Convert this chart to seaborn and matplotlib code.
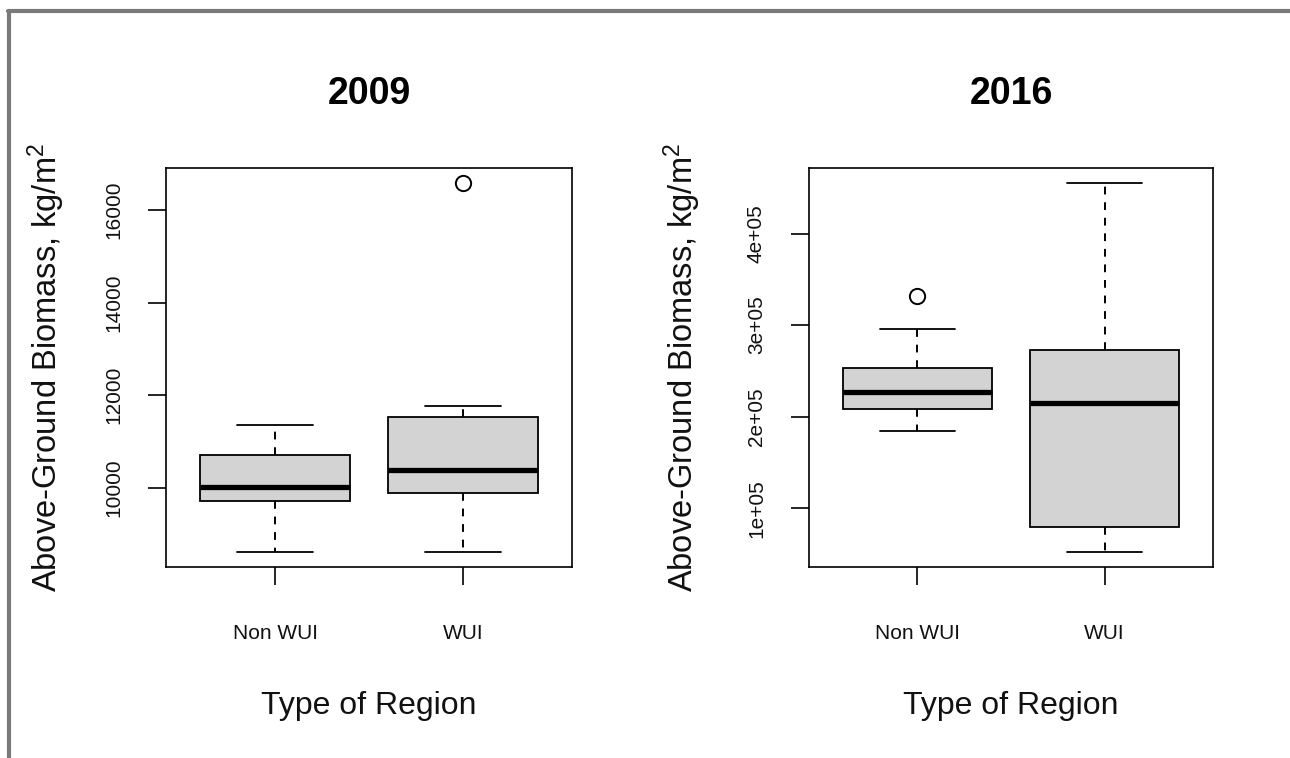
import numpy as np
import pandas as pd
import matplotlib.pyplot as plt
import seaborn as sns
from matplotlib.lines import Line2D

regions = ["Non WUI", "WUI"]
nonwui_2009 = [8620, 9300, 9720, 9900, 10020, 10400, 10710, 11000, 11350]
wui_2009 = [8610, 9500, 9885, 10100, 10390, 11000, 11530, 11770, 16590]
nonwui_2016 = [184400, 200000, 208400, 220000, 227400, 240000, 252900, 295600, 332000]
wui_2016 = [51900, 70000, 79900, 150000, 214700, 250000, 273000, 350000, 455500]

years = ["2009", "2016"]
yticks_2009 = [10000, 12000, 14000, 16000]
yticklabels_2009 = ["10000", "12000", "14000", "16000"]
yticks_2016 = [100000, 200000, 300000, 400000]
yticklabels_2016 = ["1e+05", "2e+05", "3e+05", "4e+05"]

sns.set_theme(style="white")
plt.rcParams["font.family"] = ["Liberation Sans", "DejaVu Sans"]
plt.rcParams["mathtext.fontset"] = "custom"
plt.rcParams["mathtext.rm"] = "Liberation Sans"
plt.rcParams["mathtext.it"] = "Liberation Sans"

fig = plt.figure(figsize=(12.9, 7.58), dpi=100)
W, H = 1290, 758
ax1 = fig.add_axes([166 / W, 1 - 567 / H, 406 / W, 399 / H])
ax2 = fig.add_axes([809 / W, 1 - 567 / H, 404 / W, 399 / H])

panels = [
    (ax1, years[0], nonwui_2009, wui_2009, yticks_2009, yticklabels_2009),
    (ax2, years[1], nonwui_2016, wui_2016, yticks_2016, yticklabels_2016),
]

for ax, year, nonwui, wui, yt, ytl in panels:
    df = pd.DataFrame({
        "region": [regions[0]] * len(nonwui) + [regions[1]] * len(wui),
        "biomass": nonwui + wui,
    })
    sns.boxplot(data=df, x="region", y="biomass", order=regions, ax=ax,
                color="#d3d3d3", linecolor="black", linewidth=1.3, width=0.8,
                capwidths=0.4,
                medianprops=dict(color="black", linewidth=3.8),
                whiskerprops=dict(color="black", linewidth=1.4, linestyle=(0, (4, 4))),
                capprops=dict(color="black", linewidth=1.3),
                flierprops=dict(marker="o", markersize=11, markerfacecolor="none",
                                markeredgecolor="black", markeredgewidth=1.4))
    # R-style extended limits (4% padding)
    vals = np.array(nonwui + wui)
    pad = 0.04 * (vals.max() - vals.min())
    ax.set_ylim(vals.min() - pad, vals.max() + pad)
    ax.set_xlim(-0.58, 1.58)

    ax.set_yticks(yt)
    ax.set_yticklabels(ytl, rotation=90, va="center")
    ax.tick_params(axis="both", which="both", bottom=True, left=True,
                   length=13, width=1.2, color="black",
                   labelsize=15, labelcolor="#111111", direction="out")
    ax.tick_params(axis="x", pad=28)
    ax.tick_params(axis="y", pad=18)
    for s in ax.spines.values():
        s.set_visible(True)
        s.set_color("black")
        s.set_linewidth(1.2)

    ax.set_title(year, fontsize=27, fontweight="bold", pad=46, color="black")
    ax.set_xlabel("Type of Region", fontsize=23, color="#111111")
    ax.set_ylabel("Above-Ground Biomass, kg/m$^2$", fontsize=23.5, color="#111111")
    ax.xaxis.set_label_coords(0.5, -0.31)

ax1.yaxis.set_label_coords(-0.245, 0.5)
ax2.yaxis.set_label_coords(-0.262, 0.5)

# screenshot frame lines (top and left)
fig.add_artist(Line2D([8 / W, 1], [1 - 11 / H, 1 - 11 / H], color="#7a7a7a", linewidth=3))
fig.add_artist(Line2D([9 / W, 9 / W], [0, 1 - 11 / H], color="#7a7a7a", linewidth=3))

fig.savefig("out.png", dpi=100)
